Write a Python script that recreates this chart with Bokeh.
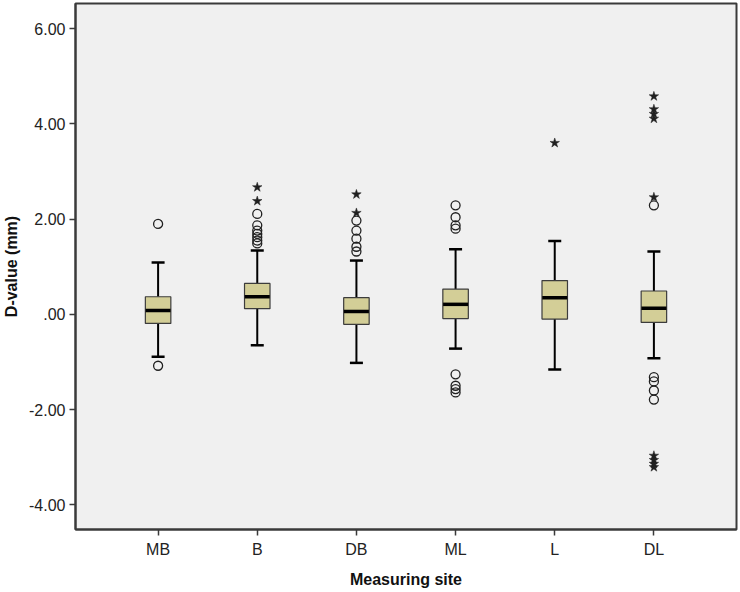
from bokeh.plotting import figure
from bokeh.models import FactorRange, Range1d, FixedTicker
from bokeh.embed import file_html
from bokeh.resources import INLINE

sites = ["MB", "B", "DB", "ML", "L", "DL"]
whisker_low = [-0.89, -0.65, -1.02, -0.72, -1.16, -0.92]
q1 = [-0.19, 0.12, -0.21, -0.09, -0.10, -0.17]
median = [0.08, 0.37, 0.06, 0.21, 0.35, 0.13]
q3 = [0.37, 0.65, 0.35, 0.53, 0.71, 0.49]
whisker_high = [1.09, 1.34, 1.13, 1.37, 1.54, 1.32]

circle_site = ["MB", "MB",
               "B", "B", "B", "B", "B", "B", "B",
               "DB", "DB", "DB", "DB", "DB",
               "ML", "ML", "ML", "ML", "ML", "ML", "ML", "ML",
               "DL", "DL", "DL", "DL", "DL"]
circle_value = [1.90, -1.08,
                2.11, 1.87, 1.76, 1.69, 1.62, 1.55, 1.49,
                1.97, 1.76, 1.59, 1.42, 1.32,
                2.29, 2.04, 1.87, 1.80, -1.26, -1.50, -1.57, -1.64,
                2.29, -1.32, -1.41, -1.60, -1.79]

star_site = ["B", "B", "DB", "DB", "L",
             "DL", "DL", "DL", "DL", "DL", "DL", "DL", "DL", "DL"]
star_value = [2.67, 2.38, 2.52, 2.13, 3.60,
              4.58, 4.31, 4.21, 4.11, 2.46, -2.97, -3.06, -3.14, -3.21]

y_ticks = [-4, -2, 0, 2, 4, 6]
y_tick_labels = ["-4.00", "-2.00", ".00", "2.00", "4.00", "6.00"]

FONT = "Liberation Sans"
BOX_FILL = "#D3CE97"
BG = "#F0F0F0"

p = figure(width=739, height=592,
           x_range=FactorRange(*sites, range_padding=0.111),
           y_range=Range1d(-4.52, 6.53),
           output_backend="svg", toolbar_location=None,
           min_border_left=75, min_border_right=3, min_border_top=3,
           min_border_bottom=63)

p.background_fill_color = BG
p.border_fill_color = "white"
p.outline_line_color = "#3a3a3a"
p.outline_line_width = 2
p.xgrid.visible = False
p.ygrid.visible = False

# whiskers
p.segment(x0=sites, y0=q3, x1=sites, y1=whisker_high, line_color="black", line_width=2)
p.segment(x0=sites, y0=whisker_low, x1=sites, y1=q1, line_color="black", line_width=2)
p.scatter(x=sites, y=whisker_high, marker="dash", size=13, line_color="black", line_width=2.5)
p.scatter(x=sites, y=whisker_low, marker="dash", size=13, line_color="black", line_width=2.5)

# boxes
p.vbar(x=sites, bottom=q1, top=q3, width=0.257, fill_color=BOX_FILL,
       line_color="#3c3c3c", line_width=1.2)
p.scatter(x=sites, y=median, marker="dash", size=25, line_color="black", line_width=3.5)

# outliers
p.scatter(x=circle_site, y=circle_value, marker="circle", size=9,
          fill_color=None, line_color="#202020", line_width=1.3)
p.scatter(x=star_site, y=star_value, marker="star", size=10,
          fill_color="#202020", line_color="#202020", line_width=0.5)

# axes
p.yaxis.ticker = FixedTicker(ticks=y_ticks)
p.yaxis.major_label_overrides = {t: l for t, l in zip(y_ticks, y_tick_labels)}
p.yaxis.axis_label = "D-value (mm)"
p.xaxis.axis_label = "Measuring site"

for ax in (p.xaxis[0], p.yaxis[0]):
    ax.axis_line_color = "#3a3a3a"
    ax.axis_line_width = 2
    ax.major_tick_line_color = "#3a3a3a"
    ax.major_tick_line_width = 1.5
    ax.major_tick_out = 6
    ax.major_tick_in = 0
    ax.minor_tick_line_color = None
    ax.major_label_text_font = FONT
    ax.major_label_text_font_size = "16px"
    ax.major_label_text_color = "#222222"
    ax.axis_label_text_font = FONT
    ax.axis_label_text_font_size = "16px"
    ax.axis_label_text_font_style = "bold"
    ax.axis_label_text_color = "#111111"

p.xaxis.major_label_standoff = 5
p.xaxis.axis_label_standoff = 10
p.yaxis.major_label_standoff = 4
p.yaxis.axis_label_standoff = 6

open("out.html", "w").write(file_html(p, INLINE))
